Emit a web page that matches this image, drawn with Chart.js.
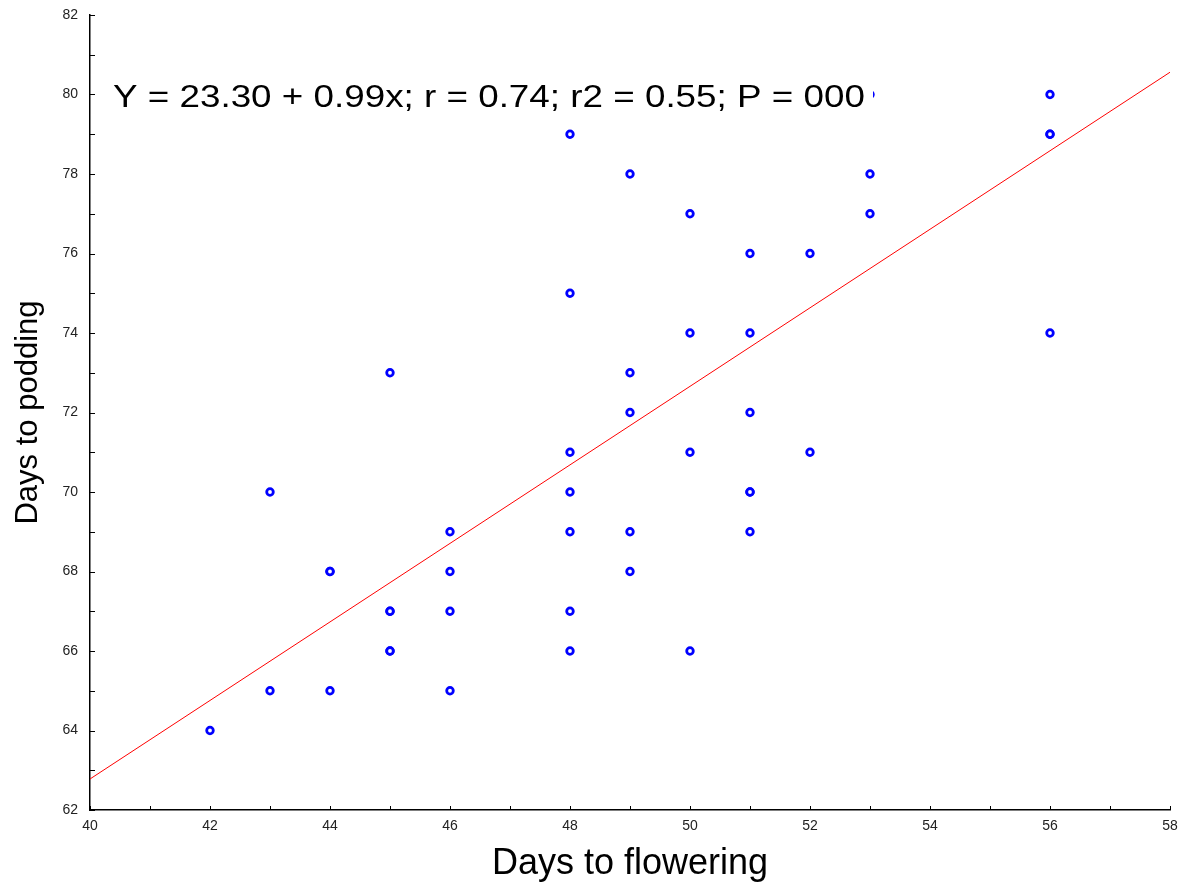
<!DOCTYPE html>
<html>
<head>
<meta charset="utf-8">
<script src="https://cdn.jsdelivr.net/npm/chart.js@4.4.0/dist/chart.umd.min.js"></script>
<style>
  html, body { margin: 0; padding: 0; background: #fff; }
  #wrap { width: 1191px; height: 883px; }
</style>
</head>
<body>
<div id="wrap"><canvas id="scatterChart" width="1191" height="883"></canvas></div>
<script>
// days to flowering (x) and days to podding (y), one entry per genotype
var flowering = [42, 43, 43, 44, 44, 44, 45, 45, 45, 45, 45, 46, 46, 46, 46,
                 48, 48, 48, 48, 48, 48, 48, 49, 49, 49, 49, 49,
                 50, 50, 50, 50, 51, 51, 51, 51, 51, 51, 52, 52,
                 53, 53, 53, 56, 56, 56, 56];
var podding   = [64, 65, 70, 65, 68, 68, 66, 66, 67, 67, 73, 65, 67, 68, 69,
                 66, 67, 69, 70, 71, 75, 79, 68, 69, 72, 73, 78,
                 66, 71, 74, 77, 69, 70, 70, 72, 74, 76, 71, 76,
                 77, 78, 80, 74, 79, 79, 80];

// fitted line end points
var fitX = [40, 58];
var fitY = [62.78, 80.56];

var equationText = "Y = 23.30 + 0.99x; r = 0.74; r2 = 0.55; P = 000";

var points = flowering.map(function (x, i) { return { x: x, y: podding[i] }; });
var fitLine = fitX.map(function (x, i) { return { x: x, y: fitY[i] }; });

// small ticks pointing into the plot, like the original software draws them
var innerTicks = {
    id: 'innerTicks',
    afterDraw: function (chart) {
        var c = chart.ctx;
        var xs = chart.scales.x, ys = chart.scales.y;
        c.save();
        c.strokeStyle = '#000';
        c.lineWidth = 1;
        c.beginPath();
        xs.ticks.forEach(function (t) {
            var px = Math.round(xs.getPixelForValue(t.value)) + 0.5;
            c.moveTo(px, ys.bottom);
            c.lineTo(px, ys.bottom - 4);
        });
        ys.ticks.forEach(function (t) {
            var py = Math.round(ys.getPixelForValue(t.value)) + 0.5;
            c.moveTo(xs.left, py);
            c.lineTo(xs.left + 5, py);
        });
        c.stroke();
        c.restore();
    }
};

// regression equation written on a white box over the plot
var equationLabel = {
    id: 'equationLabel',
    afterDatasetsDraw: function (chart) {
        var c = chart.ctx;
        var xs = chart.scales.x, ys = chart.scales.y;
        var left = xs.left + 23;
        var base = ys.getPixelForValue(80) + 12;
        c.save();
        c.fillStyle = '#fff';
        c.fillRect(left - 5, base - 30, 873 - (left - 5), 40);
        c.translate(left, base);
        c.scale(1.15, 1);
        c.fillStyle = '#000';
        c.font = '32px "Liberation Sans", Arial, sans-serif';
        c.textBaseline = 'alphabetic';
        c.fillText(equationText, 0, 0);
        c.restore();
    }
};

var ctx = document.getElementById('scatterChart').getContext('2d');

var myChart = new Chart(ctx,
{
    type: 'scatter',
    data:
    {
        datasets: [
        {
            label: 'Genotypes',
            data: points,
            pointRadius: 3.3,
            pointHoverRadius: 3.3,
            pointBorderWidth: 2.8,
            pointBackgroundColor: '#ffffff',
            pointBorderColor: '#0000ff'
        },
        {
            type: 'line',
            label: 'Fit',
            data: fitLine,
            borderColor: '#ff0000',
            borderWidth: 1,
            pointRadius: 0,
            fill: false
        }]
    },
    plugins: [innerTicks, equationLabel],
    options:
    {
        responsive: false,
        animation: false,
        events: [],
        layout:
        {
            padding: { top: 15, right: 21, left: 0, bottom: 0 }
        },
        plugins:
        {
            legend: { display: false },
            tooltip: { enabled: false }
        },
        scales:
        {
            x:
            {
                type: 'linear',
                min: 40,
                max: 58,
                afterFit: function (scale) { scale.height = 73; },
                grid: { display: false, drawTicks: false },
                border: { display: true, color: '#000', width: 1.5 },
                ticks:
                {
                    stepSize: 1,
                    padding: 8,
                    maxRotation: 0,
                    autoSkip: false,
                    color: '#222',
                    font: { family: '"Liberation Sans", Arial, sans-serif', size: 14 },
                    callback: function (v) { return v % 2 === 0 ? v : ''; }
                },
                title:
                {
                    display: true,
                    text: 'Days to flowering',
                    color: '#000',
                    padding: { top: 0, bottom: 1 },
                    font: { family: '"Liberation Sans", Arial, sans-serif', size: 36, lineHeight: 1.0 }
                }
            },
            y:
            {
                type: 'linear',
                min: 62,
                max: 82,
                afterFit: function (scale) {
                    scale.width = 90;
                    scale.paddingTop = 0;
                    scale.paddingBottom = 0;
                },
                grid: { display: false, drawTicks: false },
                border: { display: true, color: '#000', width: 1.5 },
                ticks:
                {
                    stepSize: 1,
                    padding: 12,
                    autoSkip: false,
                    color: '#222',
                    font: { family: '"Liberation Sans", Arial, sans-serif', size: 14 },
                    callback: function (v) { return v % 2 === 0 ? v : ''; }
                },
                title:
                {
                    display: true,
                    text: 'Days to podding',
                    color: '#000',
                    padding: { top: 10, bottom: 0 },
                    font: { family: '"Liberation Sans", Arial, sans-serif', size: 31, lineHeight: 1.2 }
                }
            }
        }
    }
});
</script>
</body>
</html>
